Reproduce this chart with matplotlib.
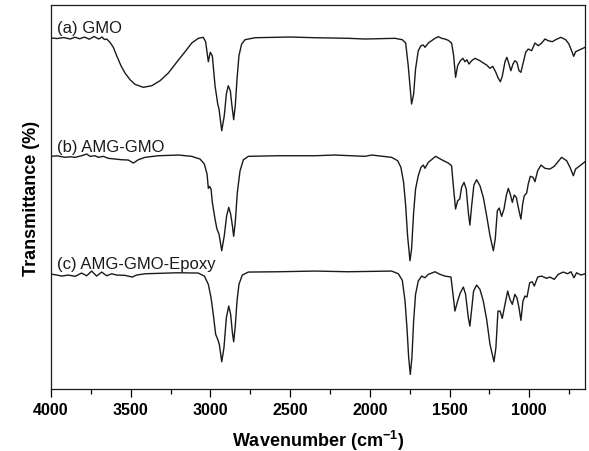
import matplotlib
matplotlib.use("Agg")
import matplotlib.pyplot as plt
from matplotlib.ticker import MultipleLocator

plt.rcParams['font.family'] = ['Liberation Sans', 'DejaVu Sans']
plt.rcParams['mathtext.default'] = 'regular'

# FTIR spectra, stacked with offsets (arbitrary transmittance units)
wn_a = [4000, 3960, 3920, 3880, 3850, 3820, 3790, 3760, 3730, 3700, 3680, 3665, 3651,
        3630, 3609, 3588, 3561, 3536, 3504, 3473, 3421, 3368, 3316, 3264, 3212, 3159,
        3117, 3076, 3045, 3030, 3013, 3001, 2988, 2971, 2954, 2946, 2929, 2913, 2900,
        2888, 2875, 2865, 2854, 2844, 2833, 2821, 2804, 2783, 2720, 2500, 2344, 2135,
        2030, 1842, 1796, 1775, 1759, 1738, 1725, 1713, 1696, 1679, 1664, 1654, 1633,
        1591, 1570, 1549, 1529, 1508, 1487, 1474, 1462, 1449, 1432, 1416, 1403, 1391,
        1378, 1361, 1340, 1309, 1288, 1267, 1246, 1229, 1211, 1194, 1181, 1169, 1152,
        1140, 1127, 1115, 1102, 1090, 1077, 1064, 1052, 1037, 1022, 1006, 985, 964,
        943, 922, 901, 880, 855, 834, 801, 771, 751, 734, 721, 709, 682, 650]
t_a = [351, 350.5, 351.5, 350, 351.8, 350.2, 352, 349.8, 352.5, 350, 352, 349.5, 350,
       346.7, 341.7, 333.3, 323.3, 316, 309.3, 304.7, 301.7, 303.3, 308.3, 316, 326.7, 337.3,
       346, 350.7, 351.7, 347.3, 327.3, 336.7, 333.3, 303.3, 285, 280, 258.3, 273.3, 295,
       303.3, 298.3, 283.3, 269.3, 283.3, 310, 333.3, 345, 349.3, 351.3, 352, 351.3, 350.7,
       350, 350.7, 349.3, 346, 323.3, 285, 295, 320, 338.3, 343.3, 344, 341.7, 346,
       350.7, 352.3, 350.7, 350, 348.7, 346, 333.3, 311.7, 323.3, 328.3, 330.7, 327.3, 329.3,
       325, 328.3, 330.7, 328.3, 326, 324, 320.7, 322.7, 317.3, 310.7, 307.3, 312.7, 327.3,
       331.7, 325, 318.3, 325, 328.3, 326.7, 318.3, 316.7, 326.7, 336.7, 340, 338.3, 346,
       343.3, 346, 350, 348.3, 347.3, 349.3, 351.7, 349.3, 345, 338.3, 332.7, 337.3, 339.3, 341.7]

wn_b = [4000, 3960, 3912, 3880, 3849, 3808, 3776, 3755, 3724, 3703, 3672, 3640, 3598,
        3557, 3515, 3483, 3452, 3410, 3327, 3201, 3118, 3065, 3038, 3021, 3013, 3005,
        2996, 2988, 2971, 2959, 2946, 2929, 2913, 2898, 2885, 2873, 2862, 2854, 2844,
        2831, 2814, 2793, 2762, 2574, 2344, 2219, 2030, 1988, 1863, 1825, 1805, 1788,
        1775, 1763, 1748, 1738, 1725, 1713, 1696, 1679, 1664, 1654, 1633, 1587, 1549,
        1508, 1487, 1474, 1462, 1449, 1436, 1424, 1409, 1395, 1382, 1372, 1361, 1347,
        1330, 1309, 1288, 1267, 1246, 1225, 1213, 1200, 1188, 1173, 1158, 1144, 1131,
        1119, 1106, 1094, 1081, 1064, 1052, 1041, 1031, 1016, 1006, 993, 976, 964,
        947, 926, 901, 870, 843, 797, 765, 744, 723, 709, 682, 650]
t_b = [232.7, 233.2, 231.7, 232.3, 231.7, 233.3, 235, 232.7, 233.3, 231.7, 232.7, 230.7, 230,
       229.3, 229, 226, 229.3, 231.7, 233.3, 234, 232.7, 230, 225, 215, 200.7, 202.7,
       200, 186.7, 170, 160, 155, 138.3, 153.3, 173.3, 181.7, 175, 163.3, 152.7, 166.7,
       196.7, 218.3, 229.3, 232.7, 233.3, 233.3, 234, 232.7, 234, 231.7, 228.3, 221.7, 206.7,
       183.3, 153.3, 128.3, 140, 176.7, 200, 213.3, 221.7, 224, 220.7, 226.7, 232.7, 229.3,
       226, 223.3, 200, 180, 188.3, 190, 201.7, 206.7, 200, 176.7, 164, 183.3, 204,
       209.3, 203.3, 191.7, 173.3, 153.3, 138.3, 150, 178.3, 181, 172.7, 180, 193.3, 200.7,
       195, 186.7, 194, 191.7, 178.3, 170, 185, 193.3, 196, 205, 212.7, 211.7, 207.3,
       218.3, 224, 220.7, 220, 222.7, 231.7, 228.3, 221.7, 213.3, 220, 223.3, 227.3]

wn_c = [4000, 3964, 3933, 3891, 3849, 3808, 3776, 3745, 3714, 3682, 3651, 3619, 3588,
        3536, 3490, 3463, 3410, 3201, 3076, 3038, 3013, 2996, 2982, 2967, 2954, 2944,
        2929, 2915, 2900, 2885, 2873, 2862, 2854, 2844, 2833, 2821, 2800, 2762, 2574,
        2344, 2135, 1863, 1821, 1796, 1779, 1767, 1756, 1746, 1736, 1725, 1713, 1696,
        1675, 1654, 1633, 1591, 1560, 1529, 1491, 1478, 1466, 1449, 1432, 1413, 1399,
        1382, 1372, 1361, 1349, 1330, 1309, 1288, 1267, 1246, 1221, 1209, 1196, 1183,
        1169, 1152, 1135, 1121, 1106, 1090, 1077, 1064, 1052, 1039, 1027, 1014, 997,
        981, 968, 947, 922, 891, 870, 843, 818, 786, 759, 738, 719, 703, 675, 650]
t_c = [115, 114, 113, 114, 112.7, 116, 113.3, 118, 113, 117, 113.3, 115.3, 114,
       113.7, 112, 114, 115.3, 116.3, 116, 113, 104.7, 91.3, 74.7, 54.7, 49.7, 44.7,
       27.3, 41.3, 71.3, 83, 74.7, 56.3, 47.3, 63, 88, 104.7, 114, 117, 117.3,
       118, 117.3, 118, 115.3, 108.7, 88, 61.3, 31.3, 14.7, 31.3, 68, 94.7, 108,
       113, 111.3, 114.7, 117.3, 114.7, 113, 112, 94.7, 78, 88, 96.3, 102, 94.7,
       71.3, 63, 79.7, 98, 104, 99.7, 88, 69.7, 44.7, 27.3, 41.3, 78, 78,
       70.7, 84.7, 98, 89.7, 84.7, 94.7, 91.3, 81.3, 68.7, 88, 93, 92, 106.3,
       107.3, 103, 112, 113, 110.7, 112, 109.7, 114.7, 117, 115.3, 117.3, 111.3, 116.3, 114, 115.3]

labels = ['(a) GMO', '(b) AMG-GMO', '(c) AMG-GMO-Epoxy']
label_y = [357, 238, 121]

fig = plt.figure(figsize=(5.89, 4.52), dpi=100)
ax = fig.add_axes([0.0866, 0.137, 0.9066, 0.8497])

for wn, t in [(wn_a, t_a), (wn_b, t_b), (wn_c, t_c)]:
    ax.plot(wn, t, color='#1a1a1a', lw=1.0)

for lab, ly in zip(labels, label_y):
    ax.text(3962, ly, lab, fontsize=12, color='#1a1a1a', va='baseline', ha='left')

ax.set_xlim(4000, 650)
ax.set_ylim(0, 384)
ax.xaxis.set_major_locator(MultipleLocator(500))
ax.xaxis.set_minor_locator(MultipleLocator(250))
ax.tick_params(axis='x', which='major', direction='out', length=6, width=0.9,
               labelsize=11.5, pad=3)
ax.tick_params(axis='x', which='minor', direction='out', length=3.5, width=0.9)
ax.set_yticks([])
for lbl in ax.get_xticklabels():
    lbl.set_fontweight('bold')
for sp in ax.spines.values():
    sp.set_linewidth(0.9)
    sp.set_color('#1a1a1a')

ax.set_xlabel('Wavenumber (cm$^{-1}$)', fontsize=13, fontweight='bold', labelpad=8)
ax.set_ylabel('Transmittance (%)', fontsize=13, fontweight='bold', labelpad=8)

fig.savefig('out.png', dpi=100)
